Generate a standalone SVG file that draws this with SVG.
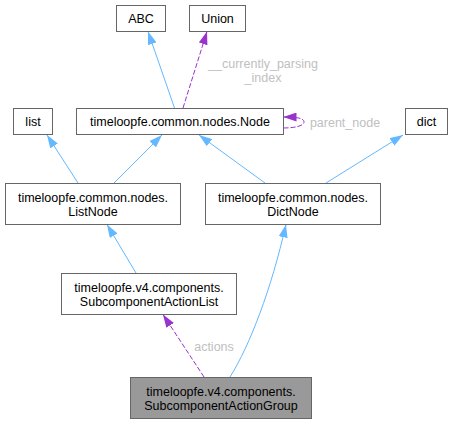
<svg xmlns="http://www.w3.org/2000/svg" width="453" height="424" viewBox="0 0 453 424">
<style>
.n rect{fill:#ffffff;stroke:#666666;stroke-width:1}
.n text,.lbl{font-family:"Liberation Sans",Arial,sans-serif;font-size:12.5px;text-anchor:middle}
.n text{fill:#000000}
#focus rect{fill:#999999}
.lbl{fill:#c0c0c0}
.inh{fill:none;stroke:#63b8ff;stroke-width:1}
.use{fill:none;stroke:#9a32cd;stroke-width:1;stroke-dasharray:5,2}
</style>
<defs>
<marker id="ab" viewBox="0 0 13 9" refX="13" refY="4.5" markerWidth="13" markerHeight="9" markerUnits="userSpaceOnUse" orient="auto"><path d="M0,0 L13,4.5 L0,9 z" fill="#63b8ff"/></marker>
<marker id="ap" viewBox="0 0 13 9" refX="13" refY="4.5" markerWidth="13" markerHeight="9" markerUnits="userSpaceOnUse" orient="auto"><path d="M0,0 L13,4.5 L0,9 z" fill="#9a32cd"/></marker>
</defs>
<g id="edges">
<path class="inh" d="M174.5,108 L148,31.5" marker-end="url(#ab)"/>
<path class="use" d="M183,108 L207,31.5" marker-end="url(#ap)"/>
<text class="lbl" x="263" y="68">__currently_parsing</text>
<text class="lbl" x="263" y="82">_index</text>
<path class="use" d="M283.5,128 C294,128 304,126 304,122 C304,118 296,117 283.5,117" marker-end="url(#ap)"/>
<text class="lbl" x="345" y="127">parent_node</text>
<path class="inh" d="M78,183 L47,135" marker-end="url(#ab)"/>
<path class="inh" d="M114,183 L162,135" marker-end="url(#ab)"/>
<path class="inh" d="M265,183 L199,135" marker-end="url(#ab)"/>
<path class="inh" d="M326,183 L403,135" marker-end="url(#ab)"/>
<path class="inh" d="M136,273 L107,224.5" marker-end="url(#ab)"/>
<path class="inh" d="M230,377 C250,345 271,290 286,224.5" marker-end="url(#ab)"/>
<path class="use" d="M204,377 L163,314.5" marker-end="url(#ap)"/>
<text class="lbl" x="214" y="351">actions</text>
</g>
<g id="abc" class="n"><rect x="116.5" y="5.5" width="49" height="26"/><text x="141" y="23">ABC</text></g>
<g id="union" class="n"><rect x="189.5" y="5.5" width="56" height="26"/><text x="217.5" y="23">Union</text></g>
<g id="list" class="n"><rect x="13.5" y="108.5" width="39" height="26"/><text x="33" y="126">list</text></g>
<g id="node" class="n"><rect x="76.5" y="108.5" width="207" height="26"/><text x="180" y="126">timeloopfe.common.nodes.Node</text></g>
<g id="dict" class="n"><rect x="405.5" y="108.5" width="42" height="26"/><text x="426.5" y="126">dict</text></g>
<g id="listnode" class="n"><rect x="5.5" y="183.5" width="175" height="41"/><text x="93" y="202">timeloopfe.common.nodes.</text><text x="93" y="216">ListNode</text></g>
<g id="dictnode" class="n"><rect x="205.5" y="183.5" width="175" height="41"/><text x="293" y="202">timeloopfe.common.nodes.</text><text x="293" y="216">DictNode</text></g>
<g id="actionlist" class="n"><rect x="61.5" y="273.5" width="175" height="41"/><text x="149" y="292">timeloopfe.v4.components.</text><text x="149" y="306">SubcomponentActionList</text></g>
<g id="focus" class="n"><rect x="130.5" y="377.5" width="181" height="41"/><text x="221" y="396">timeloopfe.v4.components.</text><text x="221" y="410">SubcomponentActionGroup</text></g>
</svg>
